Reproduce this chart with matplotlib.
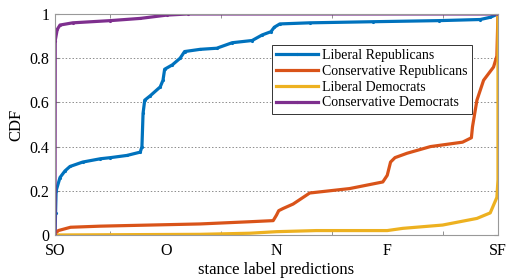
import matplotlib
matplotlib.use("Agg")
import matplotlib.pyplot as plt

plt.rcParams['font.family'] = ['Liberation Serif', 'DejaVu Serif']

tick_labels = ["SO", "O", "N", "F", "SF"]

lib_rep_x = [0, 0.005, 0.01, 0.045, 0.09, 0.135, 0.25, 0.41, 0.50, 0.65, 0.77, 0.785, 0.795,
             0.81, 0.86, 0.95, 0.975, 0.99, 1.06, 1.13, 1.17, 1.31, 1.46, 1.60, 1.78, 1.87,
             1.95, 1.98, 2.03, 2.30, 2.87, 3.47, 3.84, 3.93, 4.0]
lib_rep_y = [0, 0.10, 0.20, 0.26, 0.29, 0.31, 0.33, 0.345, 0.35, 0.36, 0.375, 0.40, 0.55,
             0.61, 0.63, 0.67, 0.70, 0.75, 0.77, 0.80, 0.83, 0.84, 0.845, 0.87, 0.88, 0.905,
             0.92, 0.94, 0.955, 0.96, 0.965, 0.97, 0.975, 0.985, 1.0]

con_rep_x = [0, 0.01, 0.03, 0.14, 0.41, 0.86, 1.31, 1.76, 1.97, 2.0, 2.02, 2.06, 2.15, 2.30,
             2.66, 2.96, 3.0, 3.03, 3.07, 3.18, 3.39, 3.68, 3.76, 3.77, 3.81, 3.87, 3.96,
             3.99, 4.0]
con_rep_y = [0, 0.01, 0.02, 0.035, 0.04, 0.045, 0.05, 0.06, 0.065, 0.09, 0.11, 0.12, 0.14,
             0.19, 0.21, 0.24, 0.27, 0.33, 0.35, 0.37, 0.40, 0.42, 0.44, 0.49, 0.61, 0.70,
             0.76, 0.81, 1.0]

lib_dem_x = [0, 1.31, 1.76, 2.0, 2.36, 3.0, 3.14, 3.50, 3.81, 3.93, 3.99, 4.0, 4.0]
lib_dem_y = [0, 0.003, 0.008, 0.015, 0.02, 0.02, 0.03, 0.045, 0.075, 0.10, 0.17, 0.25, 1.0]

con_dem_x = [0, 0.002, 0.02, 0.045, 0.16, 0.50, 0.77, 1.01, 1.2, 4.0]
con_dem_y = [0, 0.88, 0.93, 0.95, 0.96, 0.97, 0.98, 0.995, 1.0, 1.0]

series = [
    ("Liberal Republicans", lib_rep_x, lib_rep_y, "#0072BD", True),
    ("Conservative Republicans", con_rep_x, con_rep_y, "#D95319", False),
    ("Liberal Democrats", lib_dem_x, lib_dem_y, "#EDB120", False),
    ("Conservative Democrats", con_dem_x, con_dem_y, "#7E2F8E", True),
]

fig = plt.figure(figsize=(5.07, 2.78), dpi=100)
ax = fig.add_axes([0.1085, 0.1547, 0.8737, 0.795])

for label, xs, ys, color, mk in series:
    if mk:
        ax.plot(xs, ys, color=color, lw=2.3, marker='.', ms=2.5, label=label)
    else:
        ax.plot(xs, ys, color=color, lw=2.3, label=label)

ax.set_xlim(0, 4)
ax.set_ylim(0, 1)
ax.set_xticks(range(len(tick_labels)))
ax.set_xticklabels(tick_labels)
ax.set_xticks([0.5, 1.5, 2.5, 3.5], minor=True)
ax.set_yticks([0, 0.2, 0.4, 0.6, 0.8, 1])
ax.set_yticklabels(["0", "0.2", "0.4", "0.6", "0.8", "1"])
ax.tick_params(axis='both', which='both', direction='in', top=True, right=True,
               length=3, color='0.5', labelsize=11.5, pad=4)
ax.tick_params(axis='x', which='major', length=0, pad=6)
ax.grid(axis='y', linestyle=(0, (1.5, 2)), color='0.55', lw=0.7)
for s in ax.spines.values():
    s.set_color('0.6')
    s.set_linewidth(0.8)

ax.set_xlabel("stance label predictions", fontsize=12, labelpad=2)
ax.set_ylabel("CDF", fontsize=12, labelpad=4)

leg = ax.legend(loc='upper left', bbox_to_anchor=(0.49, 0.86), fontsize=10,
                fancybox=False, framealpha=1, edgecolor='0.2', handlelength=3.0,
                borderpad=0.3, labelspacing=0.2, handletextpad=0.3, borderaxespad=0)
leg.get_frame().set_linewidth(0.7)

fig.savefig("out.png", dpi=100)
